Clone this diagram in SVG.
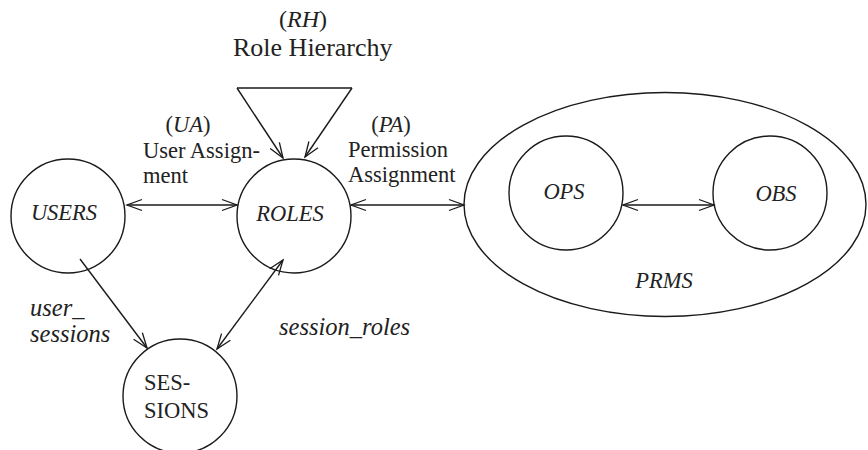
<svg xmlns="http://www.w3.org/2000/svg" width="868" height="450" viewBox="0 0 868 450">
  <style>
    .node { fill: none; stroke: #1a1a1a; stroke-width: 1.4; }
    .edge { fill: none; stroke: #1a1a1a; stroke-width: 1.4; }
    .it { font-style: italic; }
    .lbl { font-size: 22.5px; }
    .rel { font-size: 24.5px; font-style: italic; }
    .title { font-size: 26px; }
    .tag { font-size: 24px; }
  </style>
  <defs>
    <marker id="arrow" markerUnits="userSpaceOnUse" markerWidth="20" markerHeight="14" viewBox="-16 -7 18 14" refX="0" refY="0" orient="auto-start-reverse">
      <path d="M -15 -5.5 L 0 0 L -15 5.5" fill="none" stroke="#1a1a1a" stroke-width="1.3"/>
    </marker>
  </defs>
  <rect width="868" height="450" fill="#ffffff"/>

  <!-- connectors -->
  <g id="connectors">
    <!-- UA: users <-> roles -->
    <line class="edge" x1="127" y1="205" x2="237" y2="205" marker-start="url(#arrow)" marker-end="url(#arrow)"/>
    <!-- PA: roles <-> permissions -->
    <line class="edge" x1="351" y1="205" x2="464" y2="205" marker-start="url(#arrow)" marker-end="url(#arrow)"/>
    <!-- ops <-> obs -->
    <line class="edge" x1="623" y1="205" x2="714" y2="205" marker-start="url(#arrow)" marker-end="url(#arrow)"/>
    <!-- RH: role hierarchy loop -->
    <line class="edge" x1="237" y1="88" x2="352" y2="88"/>
    <line class="edge" x1="237" y1="88" x2="283" y2="158" marker-end="url(#arrow)"/>
    <line class="edge" x1="352" y1="88" x2="305" y2="157" marker-end="url(#arrow)"/>
    <!-- user_sessions -->
    <line class="edge" x1="80" y1="259" x2="147" y2="348" marker-end="url(#arrow)"/>
    <!-- session_roles -->
    <line class="edge" x1="217" y1="349" x2="283" y2="260" marker-start="url(#arrow)" marker-end="url(#arrow)"/>
  </g>

  <g font-family="'Liberation Serif', 'DejaVu Serif', serif" fill="#222">
    <g id="users">
      <circle class="node" cx="68" cy="216" r="57"/>
      <text class="lbl it" x="64" y="220" text-anchor="middle">USERS</text>
    </g>

    <g id="roles">
      <circle class="node" cx="294" cy="216" r="57"/>
      <text class="lbl it" x="290" y="221" text-anchor="middle">ROLES</text>
    </g>

    <g id="sessions">
      <circle class="node" cx="180" cy="396" r="57"/>
      <text class="lbl" x="144" y="390">SES-</text>
      <text class="lbl" x="144" y="418">SIONS</text>
    </g>

    <g id="prms">
      <ellipse class="node" cx="665" cy="204.5" rx="201" ry="112"/>
      <text class="lbl it" x="664" y="288" text-anchor="middle">PRMS</text>
    </g>

    <g id="ops">
      <circle class="node" cx="566" cy="193" r="57"/>
      <text class="lbl it" x="564" y="199" text-anchor="middle">OPS</text>
    </g>

    <g id="obs">
      <circle class="node" cx="770" cy="193" r="57"/>
      <text class="lbl it" x="776" y="201" text-anchor="middle">OBS</text>
    </g>

    <g id="labels">
      <text class="tag" x="303" y="27" text-anchor="middle">(<tspan class="it">RH</tspan>)</text>
      <text class="title" x="233" y="56">Role Hierarchy</text>

      <text class="lbl" x="188" y="132" text-anchor="middle">(<tspan class="it">UA</tspan>)</text>
      <text class="lbl" x="143" y="157.5">User Assign-</text>
      <text class="lbl" x="143" y="183">ment</text>

      <text class="lbl" x="391" y="132" text-anchor="middle">(<tspan class="it">PA</tspan>)</text>
      <text class="lbl" x="348" y="157">Permission</text>
      <text class="lbl" x="348" y="182">Assignment</text>

      <text class="rel" x="30" y="316">user_</text>
      <text class="rel" x="30" y="342">sessions</text>
      <text class="rel" x="279" y="335">session_roles</text>
    </g>
  </g>
</svg>
